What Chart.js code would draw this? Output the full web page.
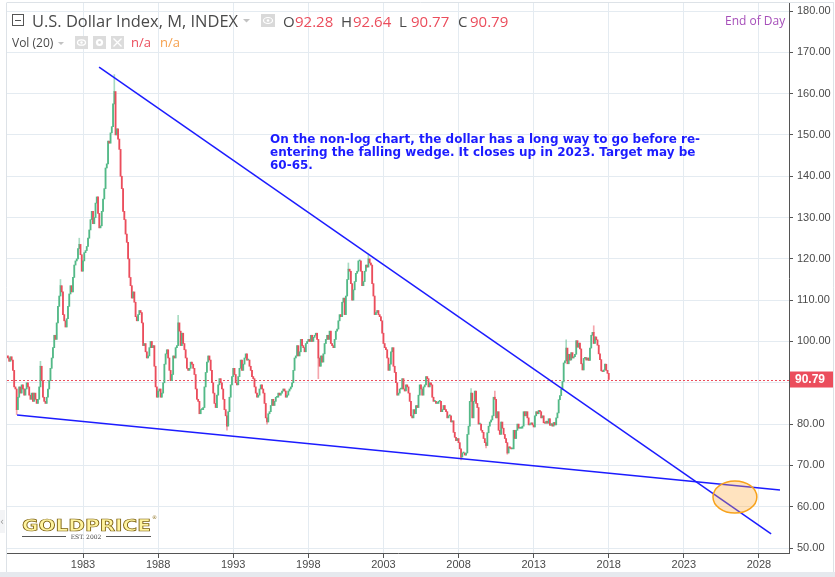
<!DOCTYPE html>
<html>
<head>
<meta charset="utf-8">
<script src="https://cdn.jsdelivr.net/npm/chart.js@4"></script>
<style>
  html, body { margin: 0; padding: 0; background: #fff; }
  #wrap { width: 835px; height: 577px; position: relative; }
</style>
</head>
<body>
<div id="wrap"><canvas id="chart"></canvas></div>
<script>
// ---- data: monthly closes of the U.S. Dollar Index, Jan 1978 .. Jan 2018 ----
const startYear = 1978;
const firstOpen = 96.5;
const closes = [
  96.0, 95.2, 96.3, 95.5, 93.0, 89.0, 88.5, 83.5, 86.5, 89.0, 87.5, 89.5,          // 1978
  88.5, 87.0, 88.5, 90.0, 89.0, 87.0, 86.0, 87.5, 85.5, 87.5, 86.0, 85.0,          // 1979
  86.0, 89.0, 94.0, 90.5, 86.5, 85.5, 85.0, 86.5, 88.5, 90.5, 93.5, 96.0,          // 1980
  98.5, 101.5, 100.5, 104.5, 108.5, 111.0, 113.5, 112.0, 106.5, 105.0, 103.5, 105.5, // 1981
  108.5, 111.5, 113.5, 112.0, 115.5, 118.5, 119.5, 120.0, 122.5, 123.5, 121.0, 117.0, // 1982
  119.5, 121.5, 122.0, 123.0, 125.0, 127.0, 129.5, 131.5, 128.5, 130.0, 133.5, 135.0, // 1983
  131.0, 127.5, 128.0, 131.5, 134.5, 137.0, 142.0, 143.0, 148.5, 148.0, 150.5, 152.0, // 1984
  157.5, 160.5, 150.0, 151.5, 149.0, 146.5, 140.0, 137.0, 131.5, 129.5, 126.0, 124.0, // 1985
  120.0, 115.5, 113.5, 110.5, 112.0, 109.5, 106.0, 105.0, 106.5, 107.5, 107.0, 104.5, // 1986
  99.0, 99.5, 97.5, 96.0, 96.5, 98.5, 100.0, 98.5, 99.0, 94.0, 89.0, 86.5,         // 1987
  88.0, 88.5, 86.5, 87.5, 90.0, 94.5, 97.0, 98.0, 96.0, 93.0, 90.5, 92.0,          // 1988
  96.5, 96.0, 98.5, 99.0, 104.5, 102.5, 99.0, 102.0, 99.5, 98.0, 96.0, 93.5,       // 1989
  93.0, 93.5, 95.0, 94.5, 93.5, 92.0, 88.5, 86.0, 85.5, 82.5, 83.5, 83.5,          // 1990
  84.0, 89.0, 92.5, 95.0, 96.5, 95.5, 93.0, 90.0, 87.5, 85.0, 84.0, 87.0,          // 1991
  89.5, 91.0, 90.0, 88.5, 86.0, 83.5, 82.0, 79.5, 83.0, 86.5, 89.5, 91.5,          // 1992
  93.5, 92.0, 90.0, 89.5, 91.5, 93.5, 95.5, 93.0, 94.5, 96.0, 97.0, 95.5,          // 1993
  95.5, 94.0, 93.0, 91.5, 91.0, 89.0, 87.5, 86.5, 87.0, 88.5, 89.5, 88.5,          // 1994
  87.5, 85.0, 81.5, 80.5, 82.5, 83.0, 84.5, 86.0, 84.5, 85.5, 86.5, 86.5,          // 1995
  87.5, 87.0, 87.5, 88.0, 88.5, 88.0, 86.5, 87.0, 88.0, 88.5, 89.0, 90.0,          // 1996
  93.0, 96.0, 96.5, 99.0, 96.5, 97.5, 100.5, 99.0, 98.5, 97.5, 99.5, 100.0,        // 1997
  100.5, 100.0, 101.5, 100.0, 101.0, 101.5, 102.0, 100.5, 96.0, 94.0, 96.5, 95.0,  // 1998
  97.0, 99.5, 100.5, 101.5, 100.5, 102.5, 99.5, 99.0, 98.5, 100.5, 102.5, 103.0,   // 1999
  105.0, 106.5, 106.0, 109.5, 110.5, 106.5, 111.0, 115.0, 117.5, 117.0, 114.0, 110.0, // 2000
  112.5, 114.5, 116.5, 117.0, 119.5, 119.5, 117.0, 113.5, 114.5, 117.0, 118.5, 118.0, // 2001
  120.0, 119.0, 118.5, 114.0, 111.0, 106.5, 107.0, 107.5, 106.5, 106.0, 105.0, 102.0, // 2002
  99.5, 98.5, 98.0, 96.0, 93.0, 94.5, 97.5, 98.5, 94.0, 92.5, 90.0, 87.0,          // 2003
  87.5, 88.5, 88.5, 91.0, 88.5, 88.0, 89.5, 89.0, 87.5, 85.5, 82.0, 81.5,          // 2004
  83.5, 82.5, 84.5, 84.0, 87.0, 89.5, 88.5, 87.0, 89.0, 89.5, 91.5, 91.0,          // 2005
  89.0, 90.0, 89.5, 86.5, 85.5, 85.5, 85.0, 85.0, 85.5, 85.5, 83.0, 83.5,          // 2006
  84.5, 83.5, 83.0, 81.5, 82.0, 82.0, 80.5, 80.8, 78.0, 76.8, 76.0, 76.5,          // 2007
  75.5, 74.0, 72.0, 73.0, 73.0, 72.5, 73.0, 77.5, 79.5, 85.5, 87.5, 81.5,          // 2008
  85.5, 88.0, 85.0, 84.0, 80.0, 80.0, 78.5, 78.0, 76.5, 75.5, 74.8, 77.9,          // 2009
  79.5, 80.5, 81.0, 82.0, 86.5, 86.0, 81.5, 83.0, 78.5, 77.5, 80.5, 79.0,          // 2010
  77.5, 76.5, 75.5, 73.0, 74.5, 74.2, 74.0, 74.0, 78.5, 76.5, 78.5, 80.0,          // 2011
  79.0, 79.0, 79.0, 79.5, 83.0, 82.0, 83.0, 81.5, 79.8, 80.0, 80.3, 79.8,          // 2012
  79.3, 82.0, 83.0, 82.5, 83.3, 83.0, 81.5, 82.0, 80.3, 80.2, 80.7, 80.2,          // 2013
  81.3, 79.7, 80.1, 79.5, 80.4, 79.8, 81.5, 82.7, 85.9, 86.9, 88.4, 90.3,          // 2014
  94.8, 95.3, 98.4, 94.6, 96.9, 95.5, 97.3, 96.0, 96.3, 96.9, 100.2, 98.6,         // 2015
  99.6, 98.2, 94.6, 93.1, 95.9, 96.1, 95.5, 96.0, 95.4, 98.4, 101.5, 102.2,        // 2016
  99.5, 101.1, 100.4, 99.1, 97.0, 95.6, 92.9, 92.7, 93.1, 94.5, 93.0, 92.28,       // 2017
  90.79                                                                             // 2018
];
const lastHigh = 92.64;
const lastLow = 90.77;

// the longest wicks that stand out in the picture (month, extreme reached)
const wickMonths = ['1978-08', '1980-03', '1981-07', '1982-10', '1985-02', '1989-05',
                    '1992-08', '1995-04', '1998-09', '2000-09', '2002-01', '2008-03',
                    '2008-11', '2009-11', '2010-06', '2011-04', '2015-03', '2017-01'];
const wickValues = [82.3, 95.2, 115.0, 125.0, 164.6, 106.3,
                    78.5, 80.0, 91.0, 119.0, 121.0, 71.3,
                    88.6, 74.2, 88.0, 72.7, 100.4, 103.8];

const xTickYears = [1983, 1988, 1993, 1998, 2003, 2008, 2013, 2018, 2023, 2028];
const yTickValues = [50, 60, 70, 80, 90, 100, 110, 120, 130, 140, 150, 160, 170, 180];

// drawn trend lines (wedge), in year / index units
const upperLine = [{ x: 1984.07, y: 166.4 }, { x: 2028.81, y: 53.4 }];
const lowerLine = [{ x: 1978.61, y: 82.2 }, { x: 2029.4, y: 64.05 }];
// target zone ellipse
const targetZone = { x: 2026.4, y: 62.35, rx: 1.46, ry: 3.9 };

const noteLines = [
  'On the non-log chart, the dollar has a long way to go before re-',
  'entering the falling wedge. It closes up in 2023. Target may be',
  '60-65.'
];

// ---- build ----
const UP = '#53b987';
const DOWN = '#eb4d5c';
const UP_WICK = 'rgba(83, 185, 135, 0.5)';
const DOWN_WICK = 'rgba(235, 77, 92, 0.5)';
const BLUE = '#1c1cff';
const GRID = '#e4ebf1';
const AXIS = '#555555';

const opens = closes.map((c, i) => i === 0 ? firstOpen : closes[i - 1]);
const candleData = closes.map((c, i) => ({ x: startYear + i / 12, y: [opens[i], c] }));
const candleColors = closes.map((c, i) => c >= opens[i] ? UP : DOWN);
const lastClose = closes[closes.length - 1];

const wickIdx = wickMonths.map(s => (Number(s.slice(0, 4)) - startYear) * 12 + Number(s.slice(5)) - 1);
const wickData = wickIdx.map((i, k) => {
  const v = wickValues[k];
  const body = v > closes[i] ? Math.max(opens[i], closes[i]) : Math.min(opens[i], closes[i]);
  return { x: startYear + i / 12, y: [body, v] };
});
const wickColors = wickIdx.map(i => closes[i] >= opens[i] ? UP_WICK : DOWN_WICK);

function fitText(ctx, text, x, y, sx) {
  ctx.save();
  ctx.translate(x, y);
  ctx.scale(sx, 1);
  ctx.fillText(text, 0, 0);
  ctx.restore();
}

const overlay = {
  id: 'overlay',
  beforeDraw(chart) {
    const c = chart.ctx;
    c.save();
    c.fillStyle = '#ffffff';
    c.fillRect(0, 0, chart.width, chart.height);
    // frame
    c.strokeStyle = '#dde2e7';
    c.lineWidth = 1;
    c.beginPath();
    c.moveTo(7, 2.5); c.lineTo(834, 2.5);
    c.moveTo(6.5, 2.5); c.lineTo(6.5, 572);
    c.moveTo(833.5, 2.5); c.lineTo(833.5, 572);
    c.stroke();
    c.fillStyle = '#e6e9ee';
    c.fillRect(0, 572, chart.width, 5);
    c.restore();
  },
  beforeDatasetsDraw(chart) {
    const c = chart.ctx;
    const a = chart.chartArea;
    const y = Math.round(chart.scales.y.getPixelForValue(lastClose)) + 0.5;
    c.save();
    c.strokeStyle = DOWN;
    c.lineWidth = 1;
    c.setLineDash([2, 2]);
    c.beginPath();
    c.moveTo(a.left, y);
    c.lineTo(a.right, y);
    c.stroke();
    c.restore();
  },
  afterDraw(chart) {
    const c = chart.ctx;
    const xs = chart.scales.x, ys = chart.scales.y;
    c.save();

    // target zone
    const cx = xs.getPixelForValue(targetZone.x);
    const cy = ys.getPixelForValue(targetZone.y);
    const rx = xs.getPixelForValue(targetZone.x + targetZone.rx) - cx;
    const ry = cy - ys.getPixelForValue(targetZone.y + targetZone.ry);
    c.beginPath();
    c.ellipse(cx, cy, rx, ry, 0, 0, Math.PI * 2);
    c.fillStyle = 'rgba(255, 170, 60, 0.33)';
    c.fill();
    c.strokeStyle = '#f7a21b';
    c.lineWidth = 1.5;
    c.stroke();

    // last price label
    const py = ys.getPixelForValue(lastClose);
    c.fillStyle = DOWN;
    c.fillRect(790, py - 8, 43, 16);
    c.fillStyle = '#ffffff';
    c.font = 'bold 12px "Liberation Sans"';
    c.textBaseline = 'middle';
    c.fillText(lastClose.toFixed(2), 795, py + 0.5);
    c.textBaseline = 'alphabetic';

    // header: collapse icon
    c.strokeStyle = '#555';
    c.lineWidth = 1;
    c.strokeRect(12.5, 14.5, 11, 11);
    c.beginPath(); c.moveTo(15, 20.5); c.lineTo(21, 20.5); c.stroke();

    // title
    c.fillStyle = '#4a4a4a';
    c.font = '16px "Open Sans"';
    const title = 'U.S. Dollar Index, M, INDEX';
    fitText(c, title, 32, 27, 206 / c.measureText(title).width);
    // caret
    c.fillStyle = '#c2c2c2';
    c.beginPath(); c.moveTo(243, 19); c.lineTo(250, 19); c.lineTo(246.5, 22.5); c.closePath(); c.fill();
    // eye box
    c.fillStyle = '#d9d9d9';
    c.fillRect(261, 14, 14, 13);
    c.strokeStyle = '#fff';
    c.lineWidth = 1.2;
    c.beginPath(); c.ellipse(268, 20.5, 4.5, 3, 0, 0, Math.PI * 2); c.stroke();
    c.fillStyle = '#fff';
    c.beginPath(); c.arc(268, 20.5, 1.3, 0, Math.PI * 2); c.fill();

    // OHLC
    const ohlc = [['O', opens[opens.length - 1], 283, 295], ['H', lastHigh, 341, 353],
                  ['L', lastLow, 399, 411], ['C', lastClose, 458, 470]];
    c.font = '15px "Open Sans"';
    ohlc.forEach(([k, v, kx, vx]) => {
      c.fillStyle = '#4a4a4a';
      c.fillText(k, kx, 27);
      c.fillStyle = DOWN;
      c.fillText(v.toFixed(2), vx, 27);
    });

    // volume row
    c.font = '12px "Open Sans"';
    c.fillStyle = '#4a4a4a';
    c.fillText('Vol (20)', 12, 47);
    c.fillStyle = '#c2c2c2';
    c.beginPath(); c.moveTo(58, 42); c.lineTo(64, 42); c.lineTo(61, 45); c.closePath(); c.fill();
    [75, 93, 111].forEach((bx, i) => {
      c.fillStyle = '#dcdcdc';
      c.fillRect(bx, 36, 13, 13);
      c.strokeStyle = '#fff';
      c.fillStyle = '#fff';
      c.lineWidth = 1.3;
      const mx = bx + 6.5, my = 42.5;
      c.beginPath();
      if (i === 0) {
        c.ellipse(mx, my, 4, 2.7, 0, 0, Math.PI * 2); c.stroke();
        c.beginPath(); c.arc(mx, my, 1.2, 0, Math.PI * 2); c.fill();
      } else if (i === 1) {
        c.arc(mx, my, 3.6, 0, Math.PI * 2); c.fill();
        c.fillStyle = '#dcdcdc';
        c.beginPath(); c.arc(mx, my, 1.4, 0, Math.PI * 2); c.fill();
      } else {
        c.moveTo(mx - 4, my - 4); c.lineTo(mx + 4, my + 4);
        c.moveTo(mx + 4, my - 4); c.lineTo(mx - 4, my + 4);
        c.stroke();
      }
    });
    c.font = '13px "Open Sans"';
    c.fillStyle = DOWN;
    c.fillText('n/a', 131, 47);
    c.fillStyle = '#f6a04d';
    c.fillText('n/a', 160, 47);

    // end of day
    c.font = '12px "Open Sans"';
    c.fillStyle = '#a64fba';
    c.fillText('End of Day', 725, 25);

    // note
    c.font = 'bold 12px "DejaVu Sans"';
    c.fillStyle = BLUE;
    const s = 430 / c.measureText(noteLines[0]).width;
    noteLines.forEach((t, i) => fitText(c, t, 270, 143 + i * 13, s));

    // logo
    c.font = 'bold 18px "DejaVu Sans"';
    const logo = 'GOLDPRICE';
    const g = c.createLinearGradient(0, 516, 0, 531);
    g.addColorStop(0, '#fff4a0');
    g.addColorStop(0.45, '#e9c23a');
    g.addColorStop(1, '#9c7a12');
    c.fillStyle = g;
    c.strokeStyle = '#7a5e0c';
    c.lineWidth = 0.8;
    const ls = 129 / c.measureText(logo).width;
    c.save();
    c.translate(22, 531);
    c.scale(ls, 0.9);
    c.fillText(logo, 0, 0);
    c.strokeText(logo, 0, 0);
    c.restore();
    c.font = '5px "DejaVu Sans"';
    c.fillStyle = '#8a6d1a';
    c.fillText('®', 152, 519);
    c.strokeStyle = '#555';
    c.lineWidth = 1;
    c.beginPath();
    c.moveTo(22, 536.5); c.lineTo(66, 536.5);
    c.moveTo(106, 536.5); c.lineTo(151, 536.5);
    c.stroke();
    c.font = '6px "DejaVu Serif"';
    c.fillStyle = '#444';
    c.textAlign = 'center';
    c.fillText('EST. 2002', 86, 539);
    c.textAlign = 'left';

    // left scroll tab
    c.fillStyle = '#f3f4f6';
    c.fillRect(0, 510, 5, 23);
    c.fillStyle = '#9a9a9a';
    c.font = '10px "DejaVu Sans"';
    c.fillText('‹', 0, 525);

    c.restore();
  }
};

new Chart(document.getElementById('chart'), {
  type: 'bar',
  data: {
    datasets: [
      { type: 'line', data: upperLine, borderColor: BLUE, borderWidth: 1.5, pointRadius: 0, fill: false, order: 0 },
      { type: 'line', data: lowerLine, borderColor: BLUE, borderWidth: 1.5, pointRadius: 0, fill: false, order: 0 },
      { type: 'bar', data: candleData, backgroundColor: candleColors, barThickness: 1.2,
        minBarLength: 1, borderWidth: 0, grouped: false, order: 1 },
      { type: 'bar', data: wickData, backgroundColor: wickColors, barThickness: 1,
        borderWidth: 0, grouped: false, order: 2 }
    ]
  },
  options: {
    responsive: true,
    maintainAspectRatio: false,
    animation: false,
    events: [],
    layout: { padding: { left: 7, top: 3, right: 0, bottom: 0 } },
    plugins: { legend: { display: false }, tooltip: { enabled: false } },
    scales: {
      x: {
        type: 'linear',
        offset: false,
        min: 1977.94,
        max: 2030.0,
        afterBuildTicks: s => { s.ticks = xTickYears.map(v => ({ value: v })); },
        afterFit: s => { s.height = 24; s.paddingLeft = 0; s.paddingRight = 0; },
        grid: { color: GRID, tickColor: AXIS, tickLength: 5, offset: false },
        border: { display: true, color: AXIS, width: 1 },
        ticks: {
          autoSkip: false, maxRotation: 0, padding: 0, color: '#4a4a4a',
          font: { family: 'Liberation Sans', size: 11 },
          callback: v => String(v)
        }
      },
      y: {
        position: 'right',
        min: 48.79,
        max: 181.94,
        afterBuildTicks: s => { s.ticks = yTickValues.map(v => ({ value: v })); },
        afterFit: s => { s.width = 46; s.paddingTop = 0; s.paddingBottom = 0; },
        grid: { color: GRID, tickColor: AXIS, tickLength: 4 },
        border: { display: true, color: AXIS, width: 1 },
        ticks: {
          padding: 4, color: '#4a4a4a',
          font: { family: 'Liberation Sans', size: 11 },
          callback: v => v.toFixed(2)
        }
      }
    }
  },
  plugins: [overlay]
});
</script>
</body>
</html>
